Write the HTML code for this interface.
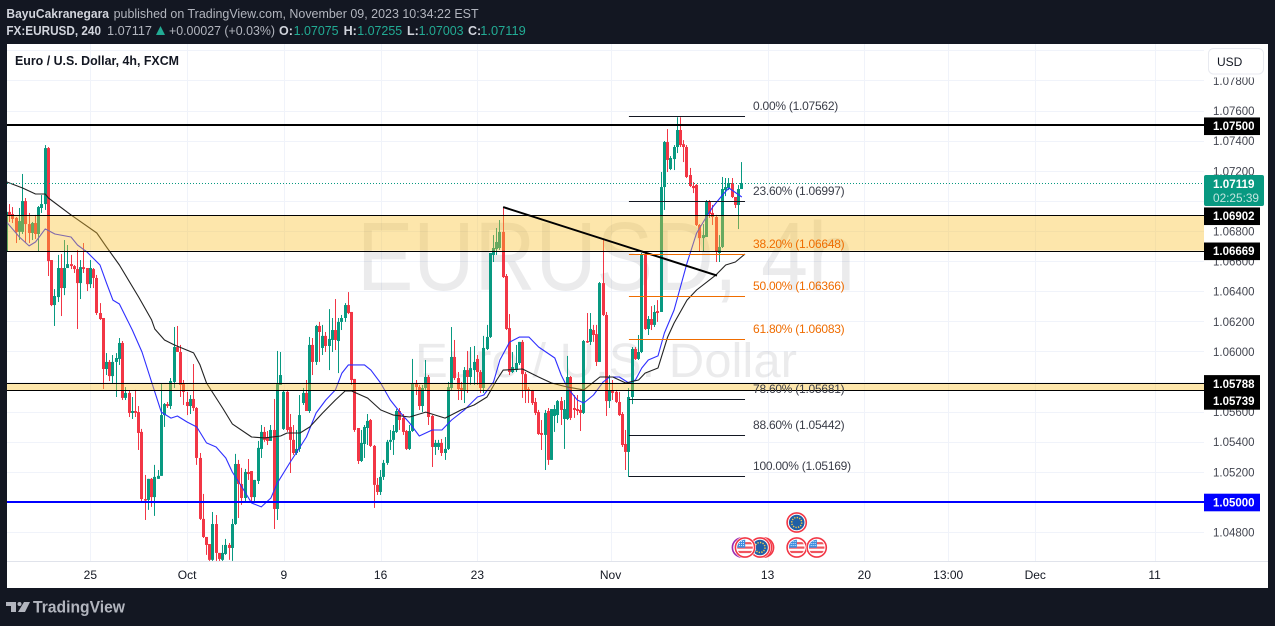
<!DOCTYPE html>
<html lang="en">
<head>
<meta charset="utf-8">
<title>EURUSD 4h chart</title>
<style>
html,body{margin:0;padding:0;background:#131722;width:1275px;height:626px;overflow:hidden}
svg{display:block}
text{font-family:"Liberation Sans",sans-serif}
</style>
</head>
<body>
<svg id="chart" xmlns="http://www.w3.org/2000/svg" width="1275" height="626" viewBox="0 0 1275 626">
  <defs>
    <clipPath id="plot-clip"><rect x="7" y="44" width="1197" height="517"/></clipPath>
    <clipPath id="flag-clip"><circle cx="0" cy="0" r="7.8"/></clipPath>
    <g id="us-flag">
      <circle r="11" fill="#fff"/>
      <circle r="9.6" fill="#fff" stroke="#f23645" stroke-width="1.6"/>
      <g clip-path="url(#flag-clip)">
        <rect x="-8" y="-8" width="16" height="16" fill="#fff"/>
        <rect x="-8" y="-1" width="16" height="2.2" fill="#f0555f"/>
        <rect x="-8" y="3.4" width="16" height="2.2" fill="#f0555f"/>
        <rect x="-8" y="-5.4" width="16" height="2.2" fill="#f0555f"/>
        <rect x="-8" y="-8" width="8.2" height="8.2" fill="#3f8fe0"/>
        <path d="M-6 -6h6M-6 -4h6M-6 -2h6" stroke="#fff" stroke-width=".8" stroke-dasharray="1 1"/>
      </g>
    </g>
    <g id="eu-flag">
      <circle r="11" fill="#fff"/>
      <circle r="9.6" fill="#fff" stroke="#f23645" stroke-width="1.6"/>
      <circle r="7.8" fill="#1f5fa6"/>
      <circle r="5" fill="none" stroke="#f2c94c" stroke-width="1.5" stroke-dasharray="1.3 1.3"/>
    </g>
  </defs>

  <rect x="0" y="0" width="1275" height="626" fill="#131722"/>
  <rect x="7" y="44" width="1261" height="544" fill="#ffffff"/>

  <g id="grid"></g>

  <g fill="#131722" fill-opacity="0.085">
    <text x="357" y="290" font-size="97" textLength="498" lengthAdjust="spacingAndGlyphs">EURUSD, 4h</text>
    <text x="415" y="377" font-size="48" textLength="382" lengthAdjust="spacingAndGlyphs">Euro / U.S. Dollar</text>
  </g>

  <g id="plot" clip-path="url(#plot-clip)">
    <g id="candles"></g>
    <g id="mas"></g>
    <g id="overlays"></g>
  </g>

  <g id="events">
    <circle cx="742" cy="547.5" r="9.6" fill="#fff" stroke="#9c27b0" stroke-width="1.6"/>
    <circle cx="764" cy="547.5" r="9.6" fill="#fff" stroke="#f23645" stroke-width="1.6"/>
    <circle cx="762" cy="547.5" r="9.6" fill="#fff" stroke="#f23645" stroke-width="1.6"/>
    <use href="#eu-flag" x="760" y="547.5"/>
    <use href="#us-flag" x="745" y="547.5"/>
    <use href="#eu-flag" x="796.7" y="522.5"/>
    <use href="#us-flag" x="796.7" y="547.5"/>
    <use href="#us-flag" x="816.7" y="547.5"/>
  </g>

  <rect x="7" y="561" width="1261" height="1" fill="#e0e3eb"/>
  <g id="price-axis"></g>
  <g id="time-axis"></g>

  <rect x="1205" y="44" width="63" height="33.5" fill="#fff"/>
  <rect x="1208.5" y="48.5" width="55" height="25.5" rx="5" fill="#fff" stroke="#e8eaf0"/>
  <text x="1217" y="66" font-size="12" fill="#131722">USD</text>
  <g id="price-labels"></g>

  <text x="15" y="65" font-size="13" font-weight="bold" fill="#131722" textLength="164" lengthAdjust="spacingAndGlyphs">Euro / U.S. Dollar, 4h, FXCM</text>

  <g font-size="12.5">
    <text x="6.4" y="18" font-weight="bold" fill="#d1d4dc" textLength="102.6" lengthAdjust="spacingAndGlyphs">BayuCakranegara</text>
    <text x="113.6" y="18" fill="#b2b5be" textLength="365" lengthAdjust="spacingAndGlyphs">published on TradingView.com, November 09, 2023 10:34:22 EST</text>
  </g>
  <g font-size="12.5">
    <text x="6.4" y="35" font-weight="bold" fill="#d1d4dc" textLength="94.6" lengthAdjust="spacingAndGlyphs">FX:EURUSD, 240</text>
    <text x="107" y="35" fill="#b2b5be" textLength="45" lengthAdjust="spacingAndGlyphs">1.07117</text>
    <polygon points="156,35 160.5,26 165,35" fill="#22ab94"/>
    <text x="169" y="35" fill="#b2b5be" textLength="106" lengthAdjust="spacingAndGlyphs">+0.00027 (+0.03%)</text>
    <text x="279" y="35" font-weight="bold" fill="#d1d4dc">O:</text>
    <text x="293.6" y="35" fill="#22ab94" textLength="45" lengthAdjust="spacingAndGlyphs">1.07075</text>
    <text x="343.6" y="35" font-weight="bold" fill="#d1d4dc">H:</text>
    <text x="357.2" y="35" fill="#22ab94" textLength="45" lengthAdjust="spacingAndGlyphs">1.07255</text>
    <text x="407" y="35" font-weight="bold" fill="#d1d4dc">L:</text>
    <text x="418.6" y="35" fill="#22ab94" textLength="45" lengthAdjust="spacingAndGlyphs">1.07003</text>
    <text x="468" y="35" font-weight="bold" fill="#d1d4dc">C:</text>
    <text x="480.3" y="35" fill="#22ab94" textLength="45.5" lengthAdjust="spacingAndGlyphs">1.07119</text>
  </g>

  <g fill="#b2b5be">
    <path d="M6 602h10v10h-5v-6H6zM24 602h6l-5 10h-7z"/>
    <circle cx="19.5" cy="604" r="2"/>
    <text x="33" y="612.5" font-size="16.5" font-weight="bold" textLength="92" lengthAdjust="spacingAndGlyphs">TradingView</text>
  </g>
</svg>

<script>
const opens=[1.06661,1.06927,1.06913,1.06887,1.06794,1.06794,1.06999,1.06846,1.06787,1.06853,
1.06780,1.06953,1.06979,1.07351,1.06607,1.06308,1.06361,1.06554,1.06421,1.06554,
1.06580,1.06567,1.06547,1.06454,1.06560,1.06554,1.06447,1.06547,1.06488,1.06255,
1.06222,1.05883,1.05930,1.05836,1.05930,1.05950,1.06056,1.05691,1.05724,1.05591,
1.05604,1.05597,1.05465,1.05019,1.05013,1.05153,1.05032,1.05153,1.05173,1.05577,
1.05650,1.05637,1.05797,1.06029,1.05996,1.05790,1.05664,1.05637,1.05684,1.05624,
1.05292,1.04887,1.04767,1.04720,1.04615,1.04853,1.04661,1.04615,1.04654,1.04714,
1.04694,1.04853,1.05252,1.05119,1.05026,1.05199,1.05205,1.05032,1.05139,1.05352,
1.05465,1.05431,1.05405,1.05478,1.04953,1.05777,1.05485,1.05731,1.05498,1.05412,
1.05325,1.05352,1.05657,1.05724,1.05604,1.06043,1.05930,1.06169,1.06023,1.06103,
1.06036,1.06076,1.06142,1.06069,1.06196,1.06222,1.06308,1.06262,1.05817,1.05491,
1.05272,1.05385,1.05491,1.05544,1.05372,1.05113,1.05066,1.05166,1.05259,1.05399,
1.05412,1.05465,1.05604,1.05558,1.05471,1.05352,1.05471,1.05790,1.05763,1.05637,
1.05757,1.05830,1.05571,1.05365,1.05365,1.05392,1.05325,1.05352,1.05757,1.05963,
1.05823,1.05757,1.05744,1.05876,1.05830,1.05876,1.05950,1.05863,1.05757,1.06016,
1.06096,1.06641,1.06680,1.06687,1.06794,1.06501,1.06155,1.05863,1.05876,1.05923,
1.06063,1.05849,1.05750,1.05737,1.05664,1.05597,1.05458,1.05445,1.05604,1.05279,
1.05571,1.05577,1.05670,1.05551,1.05551,1.05830,1.05624,1.05617,1.05611,1.05591,
1.06069,1.06063,1.06142,1.06115,1.05930,1.06454,1.06242,1.05670,1.05737,1.05731,
1.05664,1.05584,1.05385,1.05332,1.05697,1.06016,1.05950,1.05996,1.06647,1.06149,
1.06215,1.06176,1.06268,1.06262,1.07092,1.07391,1.07212,1.07278,1.07358,1.07471,
1.07377,1.07358,1.07172,1.07099,1.07106,1.06840,1.06753,1.06760,1.06993,1.06920,
1.06893,1.06654,1.06694,1.07072,1.07085,1.07119,1.07026,1.06973,1.07079];
const closes=[1.06927,1.06907,1.06880,1.06794,1.06866,1.06999,1.06846,1.06787,1.06853,1.06780,
1.06959,1.06979,1.07351,1.06600,1.06308,1.06368,1.06554,1.06421,1.06554,1.06580,
1.06567,1.06547,1.06454,1.06560,1.06547,1.06447,1.06554,1.06488,1.06255,1.06215,
1.05883,1.05930,1.05836,1.05930,1.05956,1.06056,1.05691,1.05724,1.05591,1.05604,
1.05591,1.05458,1.05019,1.05013,1.05153,1.05032,1.05166,1.05173,1.05577,1.05650,
1.05637,1.05803,1.06029,1.05996,1.05777,1.05731,1.05637,1.05684,1.05624,1.05292,
1.04887,1.04767,1.04714,1.04615,1.04853,1.04661,1.04621,1.04661,1.04714,1.04694,
1.04853,1.05252,1.05119,1.05026,1.05199,1.05185,1.05032,1.05146,1.05359,1.05465,
1.05412,1.05405,1.05478,1.04953,1.05783,1.05843,1.05731,1.05478,1.05412,1.05325,
1.05352,1.05577,1.05724,1.05604,1.06043,1.05930,1.06169,1.06129,1.06103,1.06036,
1.06083,1.06142,1.06076,1.06196,1.06222,1.06308,1.06255,1.05810,1.05478,1.05272,
1.05392,1.05498,1.05538,1.05372,1.05113,1.05066,1.05166,1.05259,1.05399,1.05412,
1.05471,1.05604,1.05544,1.05465,1.05352,1.05471,1.05790,1.05763,1.05637,1.05757,
1.05830,1.05564,1.05365,1.05392,1.05392,1.05325,1.05352,1.05763,1.05963,1.05823,
1.05750,1.05744,1.05876,1.05830,1.05889,1.05930,1.05863,1.05757,1.06023,1.06096,
1.06654,1.06687,1.06727,1.06794,1.06494,1.06149,1.05863,1.05896,1.05923,1.06063,
1.05849,1.05744,1.05737,1.05657,1.05591,1.05451,1.05445,1.05591,1.05279,1.05617,
1.05617,1.05670,1.05611,1.05617,1.05830,1.05558,1.05611,1.05604,1.05591,1.06069,
1.06063,1.06149,1.06109,1.05930,1.06454,1.06242,1.05670,1.05737,1.05724,1.05664,
1.05577,1.05378,1.05332,1.05697,1.06016,1.05950,1.05996,1.06647,1.06149,1.06215,
1.06176,1.06262,1.06255,1.07092,1.07391,1.07272,1.07285,1.07358,1.07471,1.07371,
1.07358,1.07159,1.07099,1.07085,1.06840,1.06753,1.06773,1.06993,1.06913,1.06893,
1.06661,1.06694,1.07079,1.07092,1.07119,1.07026,1.06973,1.07079,1.07119];
const highs=[1.06927,1.06979,1.06959,1.06893,1.06953,1.07179,1.07019,1.06920,1.06860,1.06907,
1.06966,1.07039,1.07371,1.07358,1.06607,1.06414,1.06641,1.06647,1.06740,1.06707,
1.06641,1.06574,1.06674,1.06607,1.06720,1.06554,1.06607,1.06554,1.06508,1.06321,
1.06222,1.05989,1.05943,1.05976,1.05989,1.06089,1.06069,1.05763,1.05737,1.05697,
1.05744,1.05637,1.05485,1.05179,1.05153,1.05159,1.05246,1.05212,1.05790,1.05657,
1.05664,1.05823,1.06162,1.06169,1.06043,1.05810,1.05731,1.05710,1.05916,1.05630,
1.05325,1.05053,1.04767,1.04720,1.04933,1.04913,1.04661,1.04714,1.04754,1.04727,
1.04887,1.05319,1.05279,1.05226,1.05219,1.05285,1.05205,1.05146,1.05405,1.05511,
1.05498,1.05471,1.05511,1.05684,1.06003,1.05996,1.05744,1.05744,1.05584,1.05511,
1.05478,1.05710,1.05757,1.05810,1.06096,1.06089,1.06176,1.06196,1.06176,1.06129,
1.06281,1.06222,1.06348,1.06222,1.06242,1.06321,1.06394,1.06262,1.05817,1.05491,
1.05478,1.05511,1.05584,1.05551,1.05378,1.05159,1.05212,1.05279,1.05412,1.05478,
1.05511,1.05617,1.05624,1.05584,1.05478,1.05511,1.05950,1.05810,1.05777,1.05777,
1.05943,1.05843,1.05577,1.05412,1.05412,1.05418,1.05431,1.05797,1.06162,1.06076,
1.05863,1.05797,1.05896,1.06003,1.06029,1.06036,1.05976,1.05876,1.06103,1.06176,
1.06654,1.06773,1.06820,1.06873,1.06953,1.06514,1.06248,1.05996,1.06043,1.06063,
1.06076,1.05863,1.05763,1.05744,1.05691,1.05611,1.05544,1.05611,1.05624,1.05617,
1.05644,1.05677,1.05697,1.05677,1.05970,1.05836,1.05710,1.05710,1.05644,1.06076,
1.06255,1.06255,1.06176,1.06176,1.06461,1.06740,1.06262,1.05843,1.05810,1.05744,
1.05731,1.05597,1.05478,1.05757,1.06029,1.06029,1.06109,1.06654,1.06654,1.06235,
1.06301,1.06308,1.06341,1.07192,1.07398,1.07477,1.07298,1.07371,1.07556,1.07556,
1.07404,1.07371,1.07219,1.07125,1.07112,1.06846,1.06846,1.07006,1.07006,1.06973,
1.06907,1.06773,1.07159,1.07152,1.07152,1.07152,1.07026,1.07105,1.07258];
const lows=[1.06560,1.06860,1.06853,1.06720,1.06740,1.06780,1.06720,1.06720,1.06740,1.06747,
1.06667,1.06920,1.06940,1.06501,1.06301,1.06169,1.06328,1.06235,1.06374,1.06554,
1.06547,1.06521,1.06149,1.06348,1.06521,1.06401,1.06421,1.06421,1.06242,1.06209,
1.05750,1.05843,1.05803,1.05790,1.05697,1.05910,1.05677,1.05677,1.05564,1.05551,
1.05564,1.05345,1.05000,1.04880,1.04947,1.04967,1.04907,1.05153,1.05173,1.05498,
1.05624,1.05617,1.05757,1.05996,1.05697,1.05644,1.05577,1.05584,1.05604,1.05246,
1.04880,1.04760,1.04648,1.04608,1.04608,1.04608,1.04608,1.04608,1.04648,1.04615,
1.04608,1.04847,1.04893,1.04980,1.04993,1.05146,1.05000,1.05000,1.05119,1.05292,
1.05399,1.05378,1.05405,1.04820,1.04880,1.05777,1.05478,1.05465,1.05192,1.05312,
1.05312,1.05332,1.05644,1.05604,1.05591,1.05843,1.05910,1.05930,1.05976,1.05996,
1.05876,1.05996,1.06009,1.05856,1.06142,1.06196,1.06248,1.05777,1.05465,1.05252,
1.05265,1.05292,1.05378,1.05365,1.04960,1.05046,1.05046,1.05146,1.05246,1.05345,
1.05312,1.05458,1.05478,1.05445,1.05345,1.05345,1.05465,1.05710,1.05611,1.05597,
1.05744,1.05511,1.05232,1.05312,1.05345,1.05305,1.05279,1.05345,1.05744,1.05810,
1.05677,1.05677,1.05657,1.05724,1.05777,1.05777,1.05777,1.05724,1.05724,1.06009,
1.06089,1.06594,1.06641,1.06674,1.06488,1.06142,1.05843,1.05856,1.05863,1.05910,
1.05691,1.05657,1.05657,1.05644,1.05577,1.05445,1.05345,1.05212,1.05246,1.05279,
1.05465,1.05524,1.05511,1.05352,1.05544,1.05544,1.05558,1.05577,1.05471,1.05584,
1.06056,1.06043,1.06063,1.05903,1.05930,1.06235,1.05571,1.05624,1.05677,1.05657,
1.05571,1.05365,1.05212,1.05166,1.05650,1.05943,1.05943,1.05989,1.06142,1.06109,
1.06142,1.06162,1.06196,1.06262,1.06940,1.07192,1.07205,1.07205,1.07318,1.07358,
1.07258,1.07152,1.07092,1.07052,1.06833,1.06661,1.06661,1.06760,1.06887,1.06840,
1.06594,1.06594,1.06687,1.07032,1.07072,1.07019,1.06953,1.06813,1.07079];

const blueBars=[0,4,7,9,12,15,20,22,25,29,31,33,35,39,42,45,48,51,53,56,59,62,65,68,70,73,76,79,82,84,88,91,93,96,99,102,104,106,111,113,116,119,122,125,128,132,135,138,142,146,148,151,153,156,159,162,165,170,172,174,177,179,182,185,187,190,193,195,197,199,202,204,207,211,214,217,219,222,224,228];
const blueValues=[1.06860,1.06760,1.06701,1.06727,1.06814,1.06780,1.06760,1.06707,1.06660,1.06574,1.06454,1.06341,1.06315,1.06142,1.05996,1.05797,1.05597,1.05557,1.05571,1.05531,1.05498,1.05392,1.05365,1.05292,1.05199,1.05099,1.04993,1.04967,1.05026,1.05126,1.05265,1.05365,1.05431,1.05591,1.05677,1.05744,1.05856,1.05910,1.05910,1.05876,1.05790,1.05677,1.05597,1.05524,1.05438,1.05478,1.05478,1.05544,1.05611,1.05697,1.05710,1.05797,1.05943,1.06062,1.06095,1.06095,1.06029,1.05956,1.05843,1.05757,1.05677,1.05657,1.05710,1.05797,1.05830,1.05830,1.05790,1.05810,1.05890,1.05943,1.05970,1.06122,1.06275,1.06587,1.06786,1.06893,1.06960,1.07039,1.07086,1.07026];
const blackBars=[0,5,9,12,13,20,28,31,35,41,45,46,49,52,58,60,62,67,70,76,80,85,87,91,94,98,102,105,107,112,116,120,125,130,136,141,145,149,152,154,160,165,169,174,179,184,188,192,196,198,202,205,207,211,214,220,223,226,229];
const blackValues=[1.07126,1.07086,1.07046,1.07046,1.07019,1.06907,1.06787,1.06694,1.06574,1.06361,1.06209,1.06149,1.06076,1.06043,1.05990,1.05910,1.05790,1.05624,1.05518,1.05431,1.05425,1.05438,1.05458,1.05458,1.05498,1.05591,1.05677,1.05737,1.05737,1.05690,1.05611,1.05577,1.05564,1.05597,1.05557,1.05611,1.05644,1.05697,1.05810,1.05876,1.05883,1.05830,1.05790,1.05763,1.05744,1.05830,1.05830,1.05790,1.05810,1.05856,1.05890,1.06095,1.06189,1.06341,1.06408,1.06508,1.06574,1.06594,1.06647];

const tickPrices=[1.078,1.076,1.074,1.072,1.07,1.068,1.066,1.064,1.062,1.06,1.058,1.056,1.054,1.052,1.05,1.048];
const gridOnlyPrices=[1.08];
const timeBars=[26,56,86,116,146,187.3,236,266,292,319,356];
const timeLabels=['25','Oct','9','16','23','Nov','13','20','13:00','Dec','11'];

const fibPercents=['0.00','23.60','38.20','50.00','61.80','78.60','88.60','100.00'];
const fibPrices=[1.07562,1.06997,1.06648,1.06366,1.06083,1.05681,1.05442,1.05169];
const fibColors=['#131722','#131722','#ef6c00','#ef6c00','#ef6c00','#131722','#131722','#131722'];
const fibBars=[193,229];

const zoneTops=[1.06902,1.05788];
const zoneBottoms=[1.06669,1.05739];
const levelPrices=[1.075,1.06902,1.06669,1.05788,1.05739,1.05];
const levelColors=['#000000','#000000','#000000','#000000','#000000','#0000ff'];
const levelWidths=[2,1,1,1,1,2];
const trendBars=[154,220.3];
const trendPrices=[1.06959,1.06504];
const lastPrice=1.07119;
const countdown='02:25:39';

const NS='http://www.w3.org/2000/svg';
const X=function(i){return 6.5+3.225*i;};
const Y=function(p){return 200.9+(1.07-p)*15050;};
const AXIS_RIGHT=1204;
const LABEL_X=1213;

function make(tag,parent,attrs){
  const el=document.createElementNS(NS,tag);
  for(const k in attrs){el.setAttribute(k,attrs[k]);}
  parent.appendChild(el);
  return el;
}
const fmt=function(p){return p.toFixed(5);};

/* grid */
const gridG=document.getElementById('grid');
tickPrices.concat(gridOnlyPrices).forEach(function(p){
  const y=Math.round(Y(p))+0.5;
  const ln=make('line',gridG,{x1:7,x2:AXIS_RIGHT,y1:y,y2:y,stroke:'#f0f3fa','stroke-width':1});
  
  
});
timeBars.forEach(function(b){
  const x=Math.round(X(b))+0.5;
  const ln=make('line',gridG,{x1:x,x2:x,y1:44,y2:561,stroke:'#f0f3fa','stroke-width':1});
  
  
});

/* candles */
const candleG=document.getElementById('candles');
opens.forEach(function(o,i){
  const c=closes[i];
  const up=c>=o;
  const color=up?'#089981':'#f23645';
  const cx=X(i);
  const left=Math.round(cx-1.5);
  const top=Y(Math.max(highs[i],o,c));
  const bot=Y(Math.min(lows[i],o,c));
  const bTop=Y(Math.max(o,c));
  const bBot=Y(Math.min(o,c));
  const g=make('g',candleG,{});
  
  
  const wick=make('rect',g,{x:left+1,y:top,width:1,height:Math.max(bot-top,1),fill:color});
  
  
  const body=make('rect',g,{x:left,y:bTop,width:3,height:Math.max(bBot-bTop,1.5),fill:color});
  
  
});

/* moving averages */
const maG=document.getElementById('mas');
const bluePts=blueBars.map(function(b,i){return X(b).toFixed(1)+','+Y(blueValues[i]).toFixed(1);}).join(' ');
const blueLine=make('polyline',maG,{points:bluePts,fill:'none',stroke:'#2f2fff','stroke-width':1.1,'stroke-linejoin':'round'});


const blackPts=blackBars.map(function(b,i){return X(b).toFixed(1)+','+Y(blackValues[i]).toFixed(1);}).join(' ');
const blackLine=make('polyline',maG,{points:blackPts,fill:'none',stroke:'#222222','stroke-width':1.1,'stroke-linejoin':'round'});



/* overlays */
const ovG=document.getElementById('overlays');
zoneTops.forEach(function(t,i){
  const y0=Y(t);
  const y1=Y(zoneBottoms[i]);
  const r=make('rect',ovG,{x:7,y:y0,width:AXIS_RIGHT-7,height:y1-y0,fill:'#fbc02d','fill-opacity':0.4});
  
  
});
const lastY=Math.round(Y(lastPrice))+0.5;
const dotted=make('line',ovG,{x1:7,x2:AXIS_RIGHT,y1:lastY,y2:lastY,stroke:'#089981','stroke-width':1,'stroke-dasharray':'1 2'});


levelPrices.forEach(function(p,i){
  const w=levelWidths[i];
  const snapped=Math.floor(Y(p)+0.3);
  const y=w%2?snapped+0.5:snapped;
  const ln=make('line',ovG,{x1:7,x2:AXIS_RIGHT,y1:y,y2:y,stroke:levelColors[i],'stroke-width':w});
  
  
});
const trend=make('line',ovG,{x1:X(trendBars[0]),y1:Y(trendPrices[0]),x2:X(trendBars[1]),y2:Y(trendPrices[1]),stroke:'#000','stroke-width':2});


fibPrices.forEach(function(p,i){
  const y=Math.round(Y(p))+0.5;
  const ln=make('line',ovG,{x1:X(fibBars[0]),x2:X(fibBars[1]),y1:y,y2:y,stroke:fibColors[i],'stroke-width':1});
  
  
  const t=make('text',ovG,{x:X(fibBars[1])+8,y:y-6.5,'font-size':12,fill:fibColors[i]==='#131722'?'#3a3d48':fibColors[i],'letter-spacing':'-0.25'});
  t.textContent=fibPercents[i]+'% ('+fmt(p)+')';
  
  
});

/* price axis ticks */
const paG=document.getElementById('price-axis');
tickPrices.forEach(function(p){
  const t=make('text',paG,{x:LABEL_X,y:Y(p)+4.5,'font-size':12,fill:'#434651',textLength:41.5,lengthAdjust:'spacingAndGlyphs'});
  t.textContent=fmt(p);
  
  
});

/* time axis ticks */
const taG=document.getElementById('time-axis');
timeLabels.forEach(function(lbl,i){
  const t=make('text',taG,{x:X(timeBars[i]),y:579,'font-size':12,fill:'#131722','text-anchor':'middle'});
  t.textContent=lbl;
  
  
});

/* level price labels with collision shifting */
const plG=document.getElementById('price-labels');
let prevCentre=-100;
levelPrices.forEach(function(p,i){
  let c=Y(p);
  if(c<prevCentre+17){c=prevCentre+17;}
  prevCentre=c;
  const r=make('rect',plG,{x:AXIS_RIGHT,y:c-8.2,width:56,height:17.6,fill:levelColors[i]});
  
  
  const t=make('text',plG,{x:LABEL_X,y:c+4.5,'font-size':12,'font-weight':'bold',fill:'#fff',textLength:41.5,lengthAdjust:'spacingAndGlyphs'});
  t.textContent=fmt(p);
  
  
});
const lastBox=make('rect',plG,{x:AXIS_RIGHT,y:Y(lastPrice)-8,width:60,height:31,rx:2,fill:'#089981'});


const lastText=make('text',plG,{x:LABEL_X,y:Y(lastPrice)+5,'font-size':12,'font-weight':'bold',fill:'#fff',textLength:41.5,lengthAdjust:'spacingAndGlyphs'});
lastText.textContent=fmt(lastPrice);


const cdText=make('text',plG,{x:LABEL_X,y:Y(lastPrice)+19,'font-size':12,fill:'#fff','fill-opacity':0.75,textLength:46,lengthAdjust:'spacingAndGlyphs'});
cdText.textContent=countdown;


</script>
</body>
</html>
